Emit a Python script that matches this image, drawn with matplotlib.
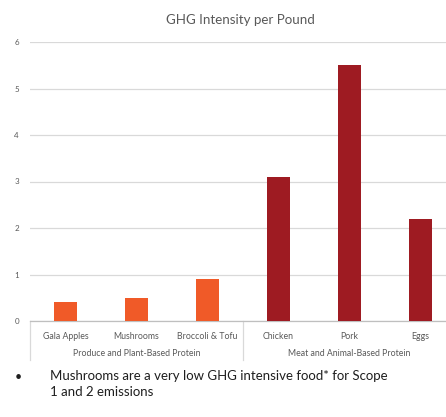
import matplotlib
matplotlib.use("Agg")
import matplotlib.pyplot as plt
from matplotlib.lines import Line2D
import matplotlib.transforms as mtransforms

# Data
categories = ["Gala Apples", "Mushrooms", "Broccoli & Tofu", "Chicken", "Pork", "Eggs"]
values = [0.4, 0.5, 0.9, 3.1, 5.5, 2.2]
groups = ["Produce and Plant-Based Protein", "Meat and Animal-Based Protein"]
group_sizes = [3, 3]
group_colors = ["#F05A28", "#9E1B22"]
y_ticks = [0, 1, 2, 3, 4, 5, 6]

plt.rcParams["font.family"] = ["Lato", "DejaVu Sans"]

W, H = 446, 417
fig = plt.figure(figsize=(W / 100, H / 100), dpi=100)
fig.patch.set_facecolor("white")

left_px, right_px, top_px, bottom_px = 30, 456, 42, 321
ax = fig.add_axes([left_px / W, 1 - bottom_px / H,
                   (right_px - left_px) / W, (bottom_px - top_px) / H])

colors = []
for c, n in zip(group_colors, group_sizes):
    colors += [c] * n

x = list(range(len(categories)))
ax.bar(x, values, width=0.32, color=colors, zorder=3)

ax.set_xlim(-0.5, len(categories) - 0.5)
ax.set_ylim(0, 6)
ax.set_yticks(y_ticks)
ax.set_yticklabels([str(t) for t in y_ticks], fontsize=5.8, color="#595959")
ax.tick_params(axis="y", length=0, pad=8)
ax.yaxis.grid(True, color="#D9D9D9", linewidth=0.9, zorder=0)
ax.set_axisbelow(True)

ax.set_xticks(x)
ax.set_xticklabels(categories, fontsize=6.3, color="#595959")
ax.tick_params(axis="x", length=0, pad=8)

for side in ["top", "right", "left"]:
    ax.spines[side].set_visible(False)
ax.spines["bottom"].set_color("#BFBFBF")
ax.spines["bottom"].set_linewidth(0.9)

# Group separators and labels beneath the category labels
trans = mtransforms.blended_transform_factory(ax.transData, ax.transAxes)
sep_depth = -39 / (bottom_px - top_px)
bounds = [-0.5]
for n in group_sizes:
    bounds.append(bounds[-1] + n)
for b in bounds[:-1]:
    ax.add_line(Line2D([b, b], [0, sep_depth], transform=trans,
                       color="#D9D9D9", linewidth=0.9, clip_on=False))
for g, a, b in zip(groups, bounds[:-1], bounds[1:]):
    ax.text((a + b) / 2, -32 / (bottom_px - top_px), g, transform=trans,
            ha="center", va="center", fontsize=6.3, color="#595959")

fig.text(240 / W, 1 - 20 / H, "GHG Intensity per Pound", ha="center", va="center",
         fontsize=9.6, color="#595959")

# Bullet note
fig.text(18 / W, 1 - 377 / H, "•", ha="center", va="center", fontsize=9, color="#1F1F1F")
fig.text(50 / W, 1 - 376 / H, "Mushrooms are a very low GHG intensive food* for Scope",
         ha="left", va="center", fontsize=9.5, color="#1F1F1F")
fig.text(50 / W, 1 - 392 / H, "1 and 2 emissions",
         ha="left", va="center", fontsize=9.5, color="#1F1F1F")

fig.savefig("out.png", dpi=100)
